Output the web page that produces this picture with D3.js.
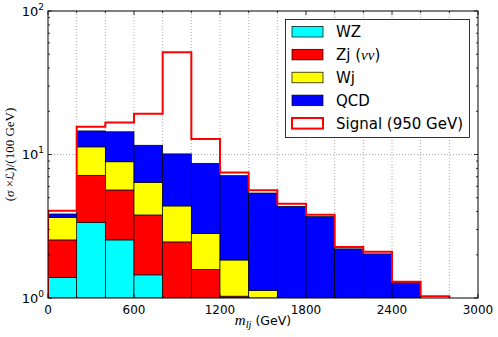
<!DOCTYPE html>
<html>
<head>
<meta charset="utf-8">
<script src="https://cdn.jsdelivr.net/npm/d3@7"></script>
<style>
  body { margin: 0; background: #fff; }
  svg { display: block; }
</style>
</head>
<body>
<div id="chart"></div>
<script>
// bin lower edges (GeV), each bin 200 GeV wide
const binStarts = [0, 200, 400, 600, 800, 1000, 1200, 1400, 1600, 1800, 2000, 2200, 2400, 2600]
const binWidth = 200
// per-process contributions, stacked in this order
const wz     = [1.39, 3.37, 2.54, 1.45, 0.6, 0.3, 0.15, 0.05, 0.02, 0, 0, 0, 0, 0]
const zj     = [1.15, 3.79, 3.12, 2.34, 1.86, 1.28, 0.88, 0.65, 0.2, 0.05, 0, 0, 0, 0]
const wj     = [1.11, 4.14, 3.24, 2.61, 1.92, 1.24, 0.81, 0.43, 0.18, 0.05, 0, 0, 0, 0]
const qcd    = [0.20, 3.3, 5.5, 5.2, 5.72, 5.86, 5.28, 4.26, 3.95, 3.59, 2.20, 2.03, 1.29, 0.9]
const signal = [0.21, 1.0, 2.3, 7.6, 41.4, 4.12, 0.38, 0.24, 0.19, 0.12, 0.07, 0.07, 0.01, 0.13]

const seriesKeys = ['WZ', 'Zj', 'Wj', 'QCD']
const seriesColors = ['#00ffff', '#ff0000', '#ffff00', '#0000ff']
const legendLabels = ['WZ', 'Zj', 'Wj', 'QCD', 'Signal (950 GeV)']
const xTicks = [0, 600, 1200, 1800, 2400, 3000]
const yTicks = [1, 10, 100]

const width = 498, height = 337
const margin = {left: 48, right: 20, top: 11, bottom: 39}
const iw = width - margin.left - margin.right
const ih = height - margin.top - margin.bottom

const svg = d3.select('#chart').append('svg')
    .attr('width', width).attr('height', height)

const x = d3.scaleLinear().domain([0, 3000]).range([0, iw])
const y = d3.scaleLog().domain([1, 100]).range([ih, 0])

const g = svg.append('g').attr('transform', `translate(${margin.left},${margin.top})`)

svg.append('defs').append('clipPath').attr('id', 'clip')
    .append('rect').attr('width', iw).attr('height', ih)

// grid: vertical every 200, horizontal at major decades
const grid = g.append('g')
grid.selectAll('line.vg')
    .data(d3.range(200, 3000, 200))
    .join('line')
    .attr('x1', d => x(d)).attr('x2', d => x(d))
    .attr('y1', 0).attr('y2', ih)
    .attr('stroke', '#999').attr('stroke-width', 0.8).attr('stroke-dasharray', '1,2')
grid.append('line')
    .attr('x1', 0).attr('x2', iw).attr('y1', y(10)).attr('y2', y(10))
    .attr('stroke', '#999').attr('stroke-width', 0.8).attr('stroke-dasharray', '1,2')

// stacked data
const rows = binStarts.map((b, i) => ({x0: b, WZ: wz[i], Zj: zj[i], Wj: wj[i], QCD: qcd[i], sig: signal[i]}))
const stacked = d3.stack().keys(seriesKeys)(rows)

const plot = g.append('g').attr('clip-path', 'url(#clip)')
const yc = v => y(Math.max(v, 1))

plot.selectAll('g.layer')
    .data(stacked)
    .join('g')
    .attr('fill', (d, i) => seriesColors[i])
    .selectAll('rect')
    .data(d => d.filter(p => p[1] > 1))
    .join('rect')
    .attr('x', d => x(d.data.x0))
    .attr('width', x(binWidth) - x(0))
    .attr('y', d => yc(d[1]))
    .attr('height', d => yc(d[0]) - yc(d[1]))
    .attr('stroke', '#000').attr('stroke-width', 0.7)

// signal on top of total, drawn as step outline
const totals = rows.map(r => r.WZ + r.Zj + r.Wj + r.QCD + r.sig)
const pts = [[0, 1]]
rows.forEach((r, i) => {
    pts.push([r.x0, totals[i]])
    pts.push([r.x0 + binWidth, totals[i]])
})
pts.push([rows[rows.length - 1].x0 + binWidth, 1])
plot.append('path')
    .attr('d', d3.line().x(d => x(d[0])).y(d => yc(d[1]))(pts))
    .attr('fill', 'none').attr('stroke', '#ff0000').attr('stroke-width', 2)

// frame
g.append('rect').attr('width', iw).attr('height', ih)
    .attr('fill', 'none').attr('stroke', '#000').attr('stroke-width', 1)

// ticks (inward, all four sides)
const tk = g.append('g').attr('stroke', '#000').attr('stroke-width', 0.8)
d3.range(0, 3001, 200).forEach(v => {
    const len = xTicks.includes(v) ? 4 : 2
    tk.append('line').attr('x1', x(v)).attr('x2', x(v)).attr('y1', ih).attr('y2', ih - len)
    tk.append('line').attr('x1', x(v)).attr('x2', x(v)).attr('y1', 0).attr('y2', len)
})
const minorY = []
;[1, 10].forEach(dec => d3.range(2, 10).forEach(m => minorY.push(dec * m)))
minorY.forEach(v => {
    tk.append('line').attr('x1', 0).attr('x2', 2).attr('y1', y(v)).attr('y2', y(v))
    tk.append('line').attr('x1', iw).attr('x2', iw - 2).attr('y1', y(v)).attr('y2', y(v))
})
yTicks.forEach(v => {
    tk.append('line').attr('x1', 0).attr('x2', 4).attr('y1', y(v)).attr('y2', y(v))
    tk.append('line').attr('x1', iw).attr('x2', iw - 4).attr('y1', y(v)).attr('y2', y(v))
})

// tick labels
const font = 'DejaVu Sans, sans-serif'
g.selectAll('text.xt')
    .data(xTicks)
    .join('text')
    .attr('x', d => x(d)).attr('y', ih + 16)
    .attr('text-anchor', 'middle')
    .attr('font-family', font).attr('font-size', 12)
    .text(d => d)

yTicks.forEach(v => {
    const t = g.append('text')
        .attr('x', -4).attr('y', y(v) + 4.5)
        .attr('text-anchor', 'end')
        .attr('font-family', font).attr('font-size', 13)
    t.append('tspan').text('10')
    t.append('tspan').attr('dy', -6).attr('font-size', 9).text(Math.round(Math.log10(v)))
})

// axis labels
const serif = 'Liberation Serif, serif'
const xl = svg.append('text')
    .attr('x', margin.left + iw / 2).attr('y', 325)
    .attr('text-anchor', 'middle')
    .attr('font-family', font).attr('font-size', 12.5)
xl.append('tspan').attr('font-family', serif).attr('font-style', 'italic').attr('font-size', 15).text('m')
xl.append('tspan').attr('font-family', serif).attr('font-style', 'italic').attr('font-size', 10.5).attr('dy', 3).text('lj')
xl.append('tspan').attr('dy', -3).text(' (GeV)')

const yl = svg.append('text')
    .attr('transform', `translate(14,${margin.top + ih / 2}) rotate(-90)`)
    .attr('text-anchor', 'middle')
    .attr('font-family', serif).attr('font-size', 13)
yl.append('tspan').text('(')
yl.append('tspan').attr('font-style', 'italic').text('σ')
yl.append('tspan').text(' ×')
yl.append('tspan').attr('font-family', 'DejaVu Sans, sans-serif').attr('font-style', 'italic').attr('font-size', 11.5).text('ℒ')
yl.append('tspan').text(')/(100 GeV)')

// legend
const lg = svg.append('g')
lg.append('rect')
    .attr('x', 285.5).attr('y', 19.5).attr('width', 184).attr('height', 118)
    .attr('fill', '#fff').attr('stroke', '#000').attr('stroke-width', 0.8)
const rowY = d3.scaleLinear().domain([0, 4]).range([31.7, 123.3])
legendLabels.forEach((lab, i) => {
    const cy = rowY(i)
    const isSig = i === 4
    lg.append('rect')
        .attr('x', 292).attr('y', cy - 5.3).attr('width', 31).attr('height', 10.6)
        .attr('fill', isSig ? '#fff' : seriesColors[i])
        .attr('stroke', isSig ? '#ff0000' : '#000')
        .attr('stroke-width', isSig ? 2 : 0.7)
    const t = lg.append('text')
        .attr('x', 336).attr('y', cy + 5.3)
        .attr('font-family', font).attr('font-size', 15)
    t.append('tspan').text(lab)
    if (lab === 'Zj') {
        t.append('tspan').text(' (')
        t.append('tspan').attr('font-family', serif).attr('font-style', 'italic').text('νν')
        t.append('tspan').text(')')
    }
})
</script>
</body>
</html>
